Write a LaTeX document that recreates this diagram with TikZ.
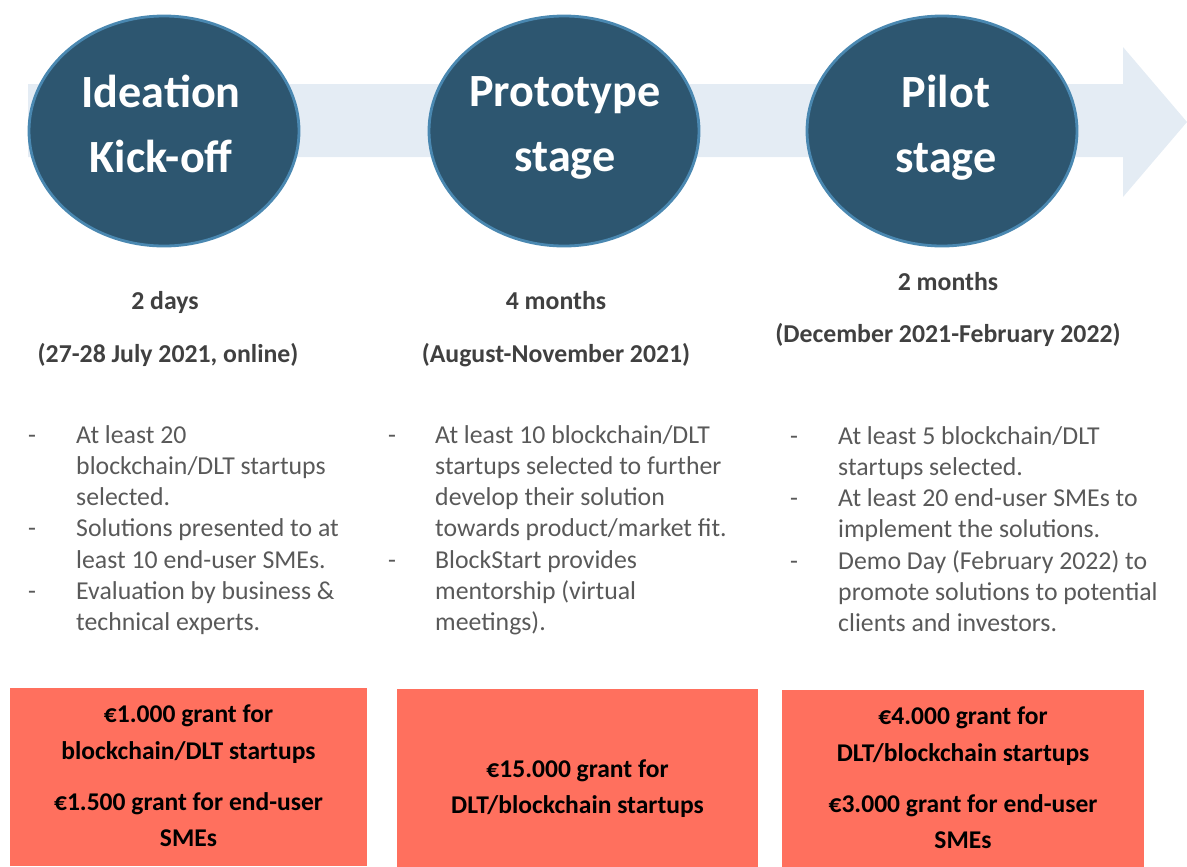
\documentclass[tikz,border=0pt]{standalone}
\usepackage{xcolor}
\usepackage{fontspec}
\setmainfont{Carlito}
\usepackage{tikz}
\usetikzlibrary{shapes.geometric}
\usetikzlibrary{positioning}

\definecolor{stagefill}{HTML}{2D5670}
\definecolor{stageline}{HTML}{4A88B1}
\definecolor{bandblue}{HTML}{E4ECF4}
\definecolor{grantred}{HTML}{FF705E}
\definecolor{bodygray}{HTML}{595959}
\definecolor{headgray}{HTML}{404040}

\begin{document}
\begin{tikzpicture}[x=0.03cm,y=-0.03cm,
  stage/.style={ellipse,fill=stagefill,draw=stageline,line width=2.4pt,
    minimum width=8.1cm,minimum height=6.9cm,inner sep=0pt},
  stagetitle/.style={text=white,align=center,
    font=\fontsize{39.4}{55.5}\selectfont\bfseries},
  period/.style={anchor=base,inner sep=0pt,text=headgray,
    font=\fontsize{22}{24}\selectfont\bfseries},
  tasks/.style={anchor=base west,inner sep=0pt,text=bodygray,
    font=\fontsize{22}{26.7}\selectfont},
  fund/.style={anchor=north west,fill=grantred,inner sep=0pt,minimum height=5.34cm},
  grant/.style={align=center,font=\fontsize{21.8}{30.9}\selectfont\bfseries}]
\useasboundingbox (0,0) rectangle (1187,866);

% timeline band
\fill[bandblue] (28,84) -- (1123,84) -- (1123,47) -- (1187,122)
  -- (1123,197) -- (1123,157) -- (28,157) -- cycle;

% stages
\node[stage] at (164,131) (ideation) {};
\node[stage] at (564,131) (prototype) {};
\node[stage] at (942,131) (pilot) {};
\node[stagetitle] at (161,124) (ideationtitle) {Ideation\\Kick-off};
\node[stagetitle] at (565,128) (prototypetitle) {Prototype\\stage};
\node[stagetitle] at (946,128) (pilottitle) {Pilot\\stage};

% durations
\node[period] at (165,309) (ideationtime) {2 days};
\node[period] at (168,362) (ideationdate) {(27-28 July 2021, online)};
\node[period] at (556,309) (prototypetime) {4 months};
\node[period] at (556,362) (prototypedate) {(August-November 2021)};
\node[period] at (948,290) (pilottime) {2 months};
\node[period] at (948,342) (pilotdate) {(December 2021-February 2022)};

% activities
\node[tasks] at (28,443) (ideationtasks) {\begin{tabular}[t]{@{}p{1.44cm}@{}l@{}}
- & At least 20\\
  & blockchain/DLT startups\\
  & selected.\\
- & Solutions presented to at\\
  & least 10 end-user SMEs.\\
- & Evaluation by business \&\\
  & technical experts.
\end{tabular}};
\node[tasks] at (388,443) (prototypetasks) {\begin{tabular}[t]{@{}p{1.41cm}@{}l@{}}
- & At least 10 blockchain/DLT\\
  & startups selected to further\\
  & develop their solution\\
  & towards product/market fit.\\
- & BlockStart provides\\
  & mentorship (virtual\\
  & meetings).
\end{tabular}};
\node[tasks] at (790,444) (pilottasks) {\begin{tabular}[t]{@{}p{1.44cm}@{}l@{}}
- & At least 5 blockchain/DLT\\
  & startups selected.\\
- & At least 20 end-user SMEs to\\
  & implement the solutions.\\
- & Demo Day (February 2022) to\\
  & promote solutions to potential\\
  & clients and investors.
\end{tabular}};

% grants
\node[fund,minimum width=10.71cm] at (10,688) (ideationfund) {};
\node[fund,minimum width=10.83cm] at (397,689) (prototypefund) {};
\node[fund,minimum width=10.86cm] at (782,690) (pilotfund) {};
\node[grant] at (188.5,776) (ideationgrant) {€1.000 grant for\\blockchain/DLT startups\\[12.8pt]
  €1.500 grant for end-user\\SMEs};
\node[grant] at (577.5,789) (prototypegrant) {€15.000 grant for\\DLT/blockchain startups};
\node[grant] at (963,778) (pilotgrant) {€4.000 grant for\\DLT/blockchain startups\\[12.8pt]
  €3.000 grant for end-user\\SMEs};
\end{tikzpicture}
\end{document}
